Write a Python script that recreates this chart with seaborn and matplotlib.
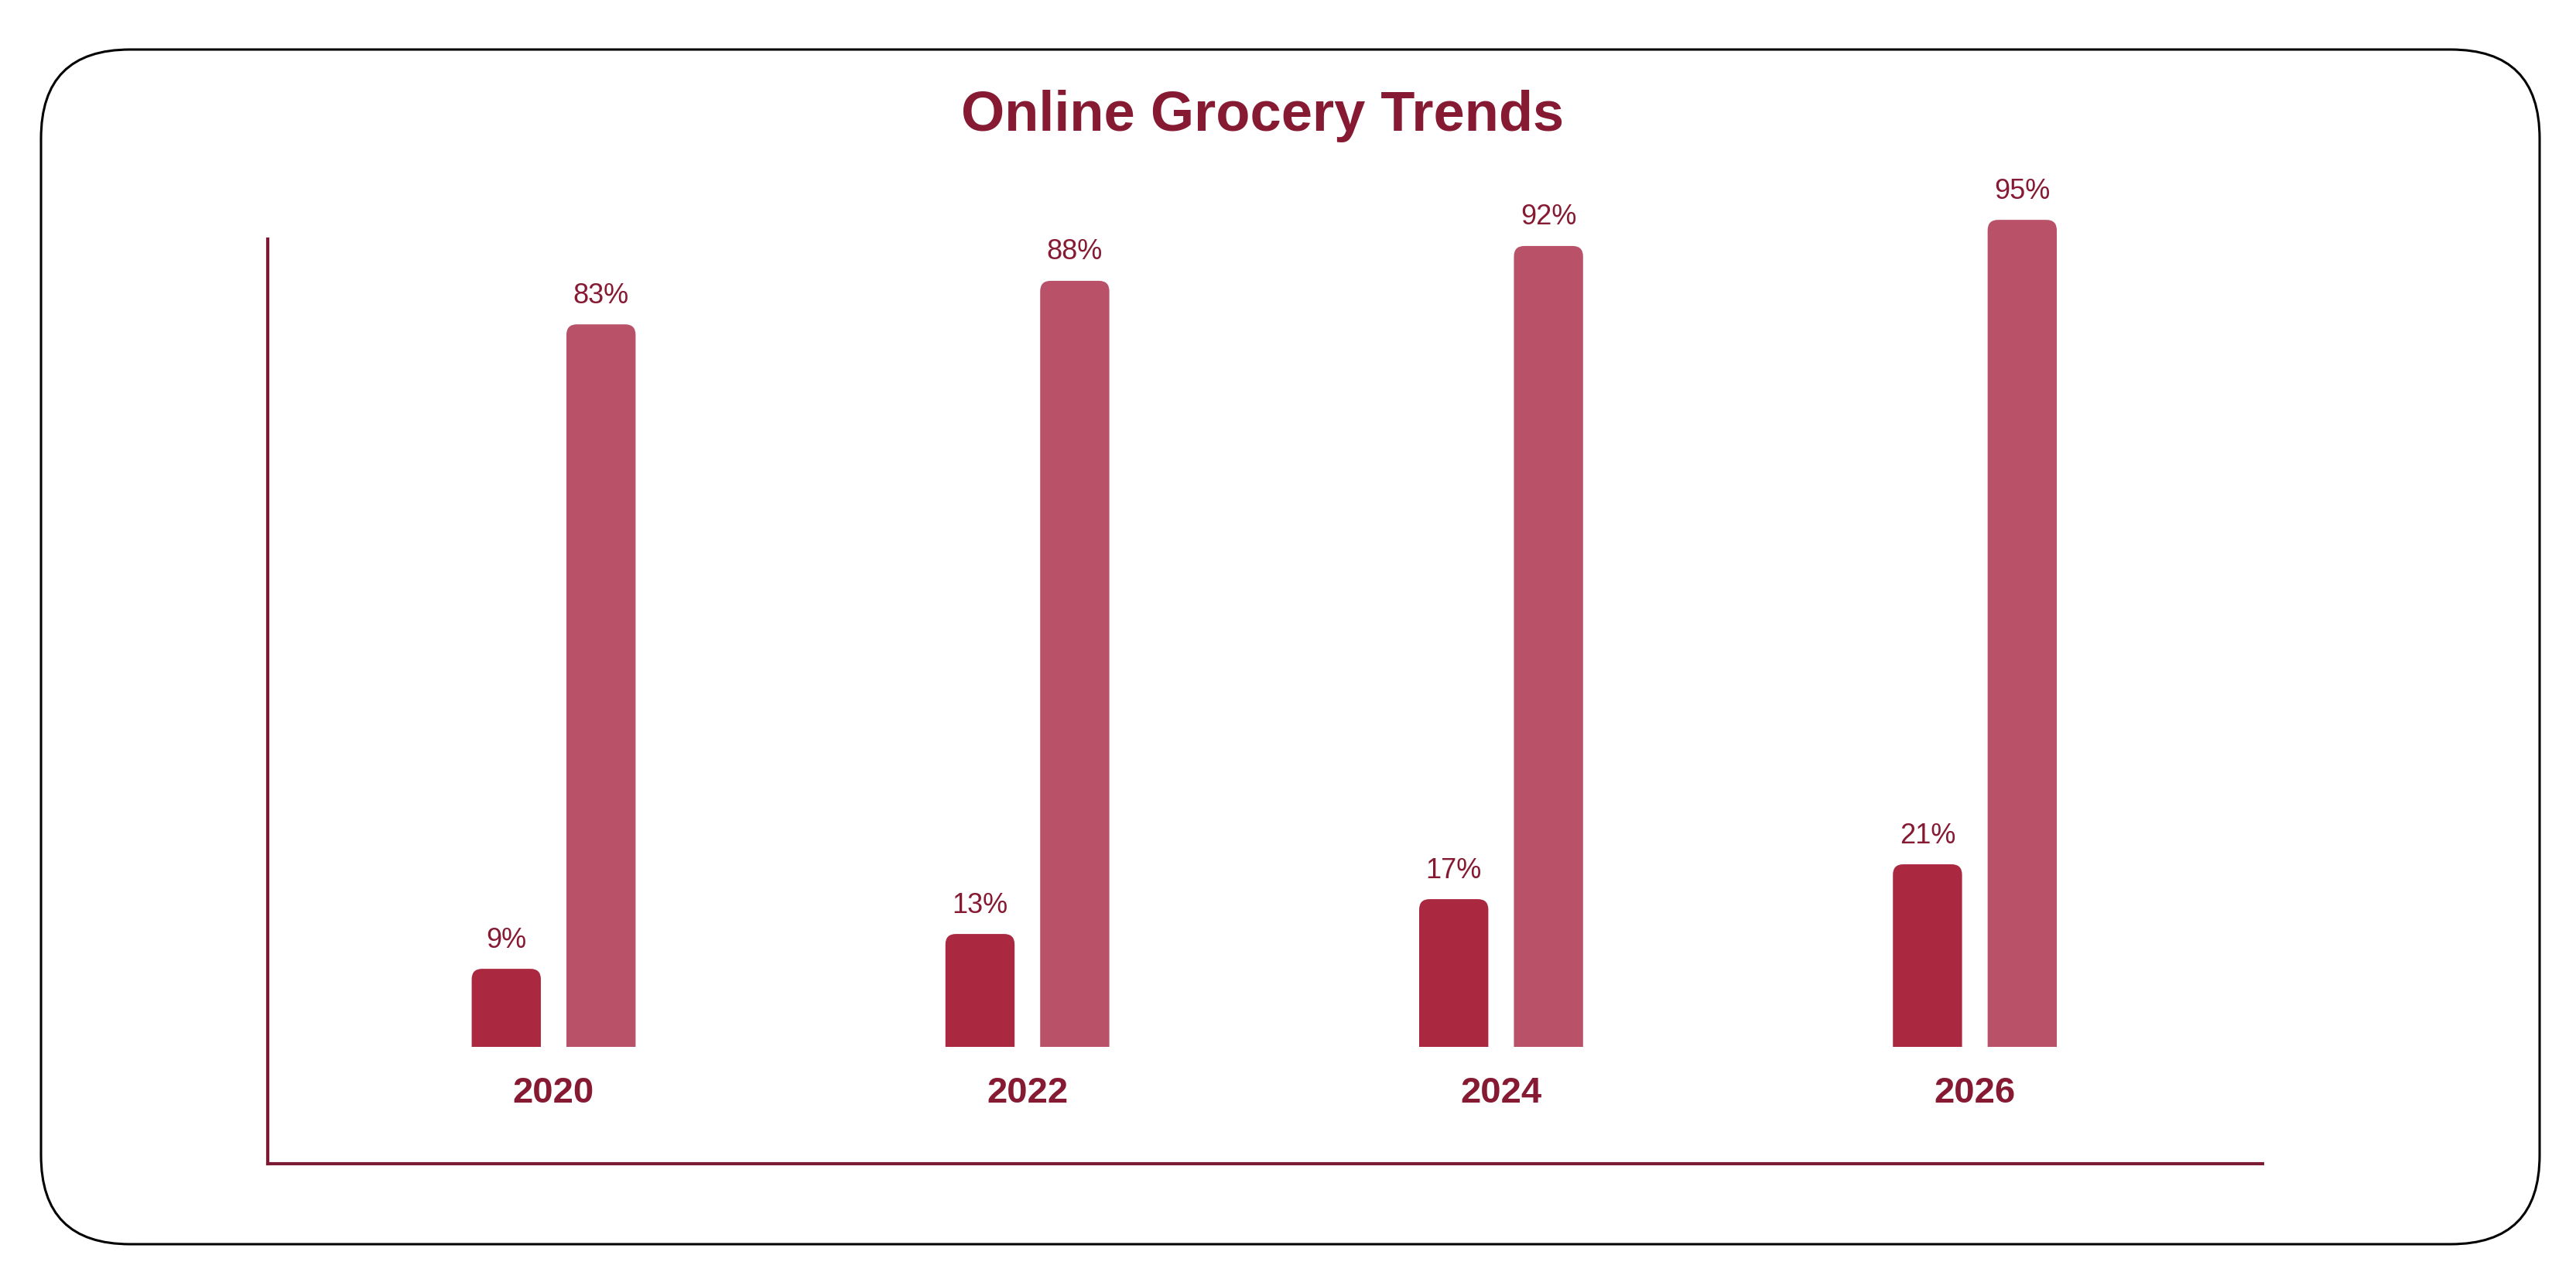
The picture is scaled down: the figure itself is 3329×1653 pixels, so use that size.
import pandas as pd
import matplotlib
matplotlib.use("Agg")
import matplotlib.pyplot as plt
import seaborn as sns
from matplotlib.patches import FancyBboxPatch, Rectangle
from matplotlib.transforms import IdentityTransform

#/// data ///#
years = ['2020', '2022', '2024', '2026']
online_share = [9, 13, 17, 21]
overall_share = [83, 88, 92, 95]
series_names = ['Online share', 'Overall share']

dark_red = '#AB2841'
light_red = '#B95269'
maroon = '#861A33'
axis_col = '#7A1A33'

df = pd.DataFrame({
    'year': years * 2,
    'value': online_share + overall_share,
    'series': [series_names[0]] * len(years) + [series_names[1]] * len(years),
})

sns.set_theme(style='white')
plt.rcParams['font.family'] = ['Liberation Sans', 'DejaVu Sans']

fig = plt.figure(figsize=(33.3, 16.53), dpi=100)
ax = fig.add_axes([0.104, 0.090, 0.774, 0.781])

sns.barplot(data=df, x='year', y='value', hue='series',
            palette=[dark_red, light_red], saturation=1,
            width=0.4, gap=0.27, legend=False, ax=ax)

ax.set_xlim(-0.603, 3.607)
ax.set_ylim(-13.4, 101.3)

# value labels
for cont in ax.containers:
    ax.bar_label(cont, labels=[f'{v:.0f}%' for v in cont.datavalues],
                 padding=14, fontsize=26, color=maroon)

# swap plain bars for bars with rounded tops
clip = Rectangle((-5, 0), 20, 500, transform=ax.transData)
rx, ry = 0.022, 1.2
for p in list(ax.patches):
    x, w, h = p.get_x(), p.get_width(), p.get_height()
    fc = p.get_facecolor()
    p.remove()
    rb = FancyBboxPatch((x, -ry), w, h + ry,
                        boxstyle=f'round,pad=0,rounding_size={rx}',
                        mutation_aspect=ry / rx, fc=fc, ec='none')
    ax.add_patch(rb)
    rb.set_clip_path(clip)

# year labels between bars and axis
for i, yr in enumerate(years):
    ax.text(i, -5.3, yr, ha='center', va='center', fontsize=34,
            fontweight='bold', color=maroon)

ax.set_xticks([])
ax.set_yticks([])
ax.set_xlabel('')
ax.set_ylabel('')
ax.patch.set_alpha(0)
for s in ['top', 'right']:
    ax.spines[s].set_visible(False)
for s in ['left', 'bottom']:
    ax.spines[s].set_color(axis_col)
    ax.spines[s].set_linewidth(3)
ax.spines['left'].set_bounds(-13.4, 92.8)

fig.text(0.49, 0.909, 'Online Grocery Trends', ha='center', va='center',
         fontsize=52, fontweight='bold', color=maroon)

# rounded frame round the whole chart
frame = FancyBboxPatch((53, 45), 3229, 1544,
                       boxstyle='round,pad=0,rounding_size=115',
                       transform=IdentityTransform(), fc='none',
                       ec='black', lw=2.2)
fig.add_artist(frame)

fig.savefig('out.png', dpi=100, facecolor='white')
